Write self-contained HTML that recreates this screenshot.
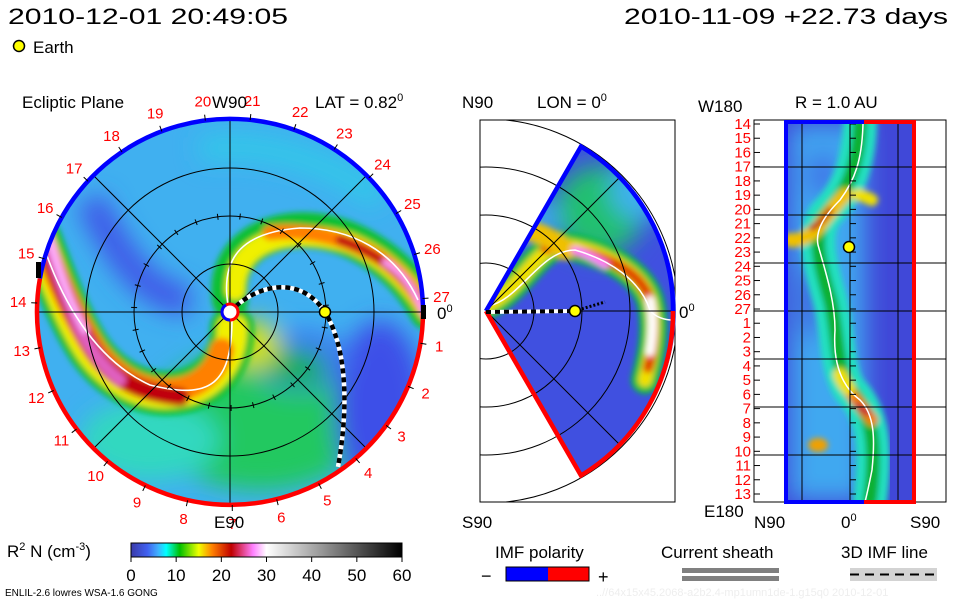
<!DOCTYPE html>
<html><head><meta charset="utf-8"><style>
html,body{margin:0;padding:0;background:#fff}
svg{display:block}
text{font-family:"Liberation Sans",sans-serif}
</style></head><body>
<svg id="s" width="960" height="600" viewBox="0 0 960 600">
<defs>
<filter id="b6" x="-20%" y="-20%" width="140%" height="140%"><feGaussianBlur stdDeviation="6"/></filter>
<filter id="b3" x="-20%" y="-20%" width="140%" height="140%"><feGaussianBlur stdDeviation="3"/></filter>
<filter id="b12" x="-30%" y="-30%" width="160%" height="160%"><feGaussianBlur stdDeviation="12"/></filter>
<clipPath id="cL"><circle cx="230" cy="312" r="193"/></clipPath>
<clipPath id="cM"><path d="M486,311 L581,146.5 A190,190 0 0 1 581,475.5 Z"/></clipPath>
<clipPath id="cMb"><rect x="480" y="120" width="195" height="382"/></clipPath>
<clipPath id="cR"><rect x="786" y="122" width="128" height="380"/></clipPath>
<linearGradient id="cbar" x1="0" x2="1">
<stop offset="0" stop-color="#3a3aa8"/><stop offset="0.06" stop-color="#4060f0"/><stop offset="0.1" stop-color="#40b0ff"/><stop offset="0.13" stop-color="#00ffff"/><stop offset="0.18" stop-color="#00c000"/><stop offset="0.25" stop-color="#f0ff00"/><stop offset="0.3" stop-color="#ff8000"/><stop offset="0.37" stop-color="#c00000"/><stop offset="0.45" stop-color="#ff80ff"/><stop offset="0.5" stop-color="#ffffff"/><stop offset="1" stop-color="#000000"/>
</linearGradient>
</defs>

<text x="8" y="24" font-size="22" textLength="280" lengthAdjust="spacingAndGlyphs">2010-12-01 20:49:05</text>
<text x="624" y="24" font-size="22" textLength="324" lengthAdjust="spacingAndGlyphs">2010-11-09 +22.73 days</text>
<circle cx="19" cy="46" r="5.5" fill="#ffff00" stroke="#000" stroke-width="1.5"/>
<text x="33" y="53" font-size="17">Earth</text>

<g>
<g clip-path="url(#cL)">
<rect x="30" y="110" width="400" height="410" fill="#40b0f0"/>
<g filter="url(#b12)">
<ellipse cx="260" cy="420" rx="110" ry="70" fill="#20c860"/>
<ellipse cx="150" cy="440" rx="70" ry="40" fill="#30d8c0"/>
<ellipse cx="380" cy="410" rx="45" ry="90" fill="#3c50e8"/>
<ellipse cx="300" cy="360" rx="50" ry="30" fill="#3e7af0"/>
<path d="M90,200 C120,260 150,300 190,300" stroke="#4058e8" stroke-width="30" fill="none"/>
<path d="M200,150 C260,140 330,160 380,200" stroke="#30c8e8" stroke-width="25" fill="none"/>
<path d="M240,340 C270,360 300,380 320,360" stroke="#10b030" stroke-width="30" fill="none"/>
<ellipse cx="255" cy="345" rx="25" ry="25" fill="#d0e000"/>
</g>
<g filter="url(#b3)" fill="none" stroke-linecap="round">
<path d="M232,328 C232,400 140,420 90,350 C70,320 55,280 40,240" stroke="#10c030" stroke-width="44"/>
<path d="M232,328 C232,400 140,420 90,350 C70,320 55,280 40,240" stroke="#f0f000" stroke-width="30"/>
<path d="M222,350 C210,398 140,410 95,350 C75,320 58,282 42,240" stroke="#ff8000" stroke-width="24"/>
<path d="M180,397 C130,392 105,372 90,345 C72,315 58,282 44,240" stroke="#c00010" stroke-width="18"/>
<path d="M120,380 C100,365 88,345 78,325 C68,300 58,275 48,240" stroke="#e060c0" stroke-width="12"/>
<path d="M85,330 C72,305 60,275 50,240" stroke="#ffb0ff" stroke-width="7"/>
<path d="M230,300 C222,240 290,215 350,240 C385,255 410,280 428,312" stroke="#10c030" stroke-width="36"/>
<path d="M235,290 C235,240 290,225 350,243 C385,257 410,282 428,312" stroke="#f0f000" stroke-width="20"/>
<path d="M270,233 C310,228 350,240 380,258 C405,275 418,295 428,315" stroke="#ff8000" stroke-width="15"/>
<path d="M340,240 C370,250 400,270 420,300" stroke="#c00010" stroke-width="9"/>
<path d="M385,262 C405,275 416,292 425,315" stroke="#ffa0ff" stroke-width="6"/>
</g>
<path d="M228,305 C220,255 245,232 300,228 C350,228 395,250 418,300" stroke="#fff" stroke-width="1.6" fill="none"/>
<path d="M232,318 C232,385 210,400 150,385 C95,360 60,300 40,235" stroke="#fff" stroke-width="1.6" fill="none"/>
</g>
<g stroke="#000" stroke-width="1" fill="none">
<circle cx="230" cy="312" r="48"/><circle cx="230" cy="312" r="96"/><circle cx="230" cy="312" r="144"/>
<line x1="37" y1="312" x2="423" y2="312"/><line x1="230" y1="119" x2="230" y2="505"/>
<line x1="93.5" y1="175.5" x2="366.5" y2="448.5"/><line x1="93.5" y1="448.5" x2="366.5" y2="175.5"/>
</g>
<path d="M236,306 C260,285 300,275 325,312 C345,345 350,400 338,467" stroke="#fff" stroke-width="4.5" fill="none"/>
<path d="M236,306 C260,285 300,275 325,312 C345,345 350,400 338,467" stroke="#000" stroke-width="4.5" stroke-dasharray="5,4" fill="none"/>
<path d="M39.9,278.5 A193,193 0 0 1 423,312" stroke="#0000ff" stroke-width="4.5" fill="none"/>
<path d="M423,312 A193,193 0 1 1 39.9,278.5" stroke="#ff0000" stroke-width="4.5" fill="none"/>
<rect x="421" y="305" width="5" height="14" fill="#000"/><rect x="36" y="262" width="5" height="16" fill="#000"/>
<circle cx="230" cy="312" r="8" fill="#fff" stroke="#ff0000" stroke-width="3"/>
<path d="M230,320 A8,8 0 0 1 222,312 A8,8 0 0 1 226,305" stroke="#0000ff" stroke-width="3" fill="none"/>
<circle cx="325" cy="312" r="5.5" fill="#ffff00" stroke="#000" stroke-width="1.5"/>
<g id="lticks" stroke="#000" stroke-width="1"></g>
<g id="dayLabels" fill="#ff0000" font-size="15"></g>
<text x="22" y="108" font-size="17">Ecliptic Plane</text>
<text x="212" y="108" font-size="17">W90</text>
<text x="315" y="108" font-size="17">LAT = 0.82<tspan font-size="11" dy="-7">0</tspan></text>
<text x="214" y="528" font-size="17">E90</text>
<text x="437" y="319" font-size="17">0<tspan font-size="11" dy="-7">0</tspan></text>
</g>

<g>
<rect x="480" y="120" width="195" height="382" fill="none" stroke="#000" stroke-width="1"/>
<g clip-path="url(#cM)">
<rect x="480" y="140" width="200" height="340" fill="#4050e0"/>
<g filter="url(#b12)">
<ellipse cx="600" cy="210" rx="45" ry="45" fill="#20c070"/>
<ellipse cx="640" cy="190" rx="30" ry="30" fill="#40b0f0"/>
<ellipse cx="530" cy="220" rx="30" ry="25" fill="#40a0f0"/>
</g>
<g filter="url(#b3)" fill="none" stroke-linecap="round">
<path d="M486,306 C520,290 535,250 560,245 C600,250 640,270 650,300 C658,330 650,360 645,380" stroke="#10c040" stroke-width="28"/>
<path d="M486,306 C520,290 535,250 560,245 C600,250 640,270 650,300 C658,330 650,360 645,380" stroke="#f0e000" stroke-width="14"/>
<path d="M545,248 C600,250 640,270 650,300 C656,330 652,355 648,368" stroke="#e04000" stroke-width="10"/>
<path d="M525,230 C540,232 555,240 565,250" stroke="#f0c000" stroke-width="20"/>
<path d="M575,250 C590,255 600,262 605,265" stroke="#ff80ff" stroke-width="8"/>
<path d="M650,300 C654,320 652,340 650,352" stroke="#ffffff" stroke-width="9"/>
</g>
<path d="M488,306 C520,300 540,250 575,250 C610,260 640,280 650,310 C655,318 667,320 672,320" stroke="#fff" stroke-width="1.5" fill="none"/>
</g>
<g clip-path="url(#cMb)" stroke="#000" stroke-width="1" fill="none">
<circle cx="486" cy="311" r="48"/><circle cx="486" cy="311" r="96"/><circle cx="486" cy="311" r="144"/><circle cx="486" cy="311" r="192"/>
<line x1="486" y1="311" x2="672" y2="311"/>
<line x1="486" y1="311" x2="620" y2="177"/><line x1="486" y1="311" x2="620" y2="445"/>
</g>
<path d="M486,311 L581,146.5 A190,190 0 0 1 673,311" stroke="#0000ff" stroke-width="4.5" fill="none"/>
<path d="M673,311 A190,190 0 0 1 581,475.5 L486,311" stroke="#ff0000" stroke-width="4.5" fill="none"/>
<line x1="486" y1="312" x2="575" y2="311" stroke="#fff" stroke-width="4"/>
<line x1="486" y1="312" x2="575" y2="311" stroke="#000" stroke-width="4" stroke-dasharray="5,4"/>
<line x1="578" y1="310" x2="605" y2="302" stroke="#000" stroke-width="3" stroke-dasharray="2,2"/>
<circle cx="575" cy="311" r="5.5" fill="#ffff00" stroke="#000" stroke-width="1.5"/>
<text x="462" y="108" font-size="17">N90</text>
<text x="537" y="108" font-size="17">LON = 0<tspan font-size="11" dy="-7">0</tspan></text>
<text x="679" y="318" font-size="17">0<tspan font-size="11" dy="-7">0</tspan></text>
<text x="462" y="528" font-size="17">S90</text>
</g>

<g>
<rect x="754" y="120" width="192" height="382" fill="none" stroke="#000" stroke-width="1"/>
<g clip-path="url(#cR)">
<rect x="786" y="122" width="128" height="380" fill="#4048d8"/>
<g filter="url(#b12)">
<rect x="790" y="125" width="75" height="375" fill="#40a8f0"/>
<ellipse cx="823" cy="175" rx="15" ry="25" fill="#4070e8"/>
<ellipse cx="810" cy="300" rx="12" ry="40" fill="#4060e0"/>
</g>
<g filter="url(#b3)" fill="none" stroke-linecap="round">
<path d="M860,124 C858,170 845,195 825,215 C812,235 820,265 830,300 C838,330 836,370 850,390 C870,410 878,440 870,500" stroke="#20e0c0" stroke-width="34"/>
<path d="M860,124 C858,170 845,195 825,215 C812,235 820,265 830,300 C838,330 836,370 850,390 C870,410 878,440 870,500" stroke="#10b030" stroke-width="14"/>
<path d="M845,195 C835,205 828,215 820,225 C812,235 800,242 790,240" stroke="#f0c000" stroke-width="14"/>
<path d="M830,210 C825,218 818,225 812,228" stroke="#c01010" stroke-width="6"/>
<path d="M858,195 C862,195 868,198 872,200" stroke="#f0e000" stroke-width="12"/>
<path d="M845,385 C855,400 865,410 872,420" stroke="#f08000" stroke-width="12"/>
<path d="M858,405 C862,410 866,412 868,413" stroke="#c01040" stroke-width="6"/>
<path d="M840,375 C842,380 845,385 848,388" stroke="#f0e000" stroke-width="14"/>
<ellipse cx="818" cy="445" rx="10" ry="7" fill="#f0a000"/>
</g>
<path d="M863,124 C862,160 855,180 840,200 C825,215 815,230 818,245 C825,270 835,300 835,330 C833,360 840,385 860,400 C875,415 875,440 872,470 C868,490 866,498 865,502" stroke="#fff" stroke-width="1.5" fill="none"/>
</g>
<g stroke="#000" stroke-width="1" id="rgrid">
<line x1="802" y1="120" x2="802" y2="502"/><line x1="850" y1="120" x2="850" y2="502"/><line x1="898" y1="120" x2="898" y2="502"/>
</g>
<rect x="786" y="122" width="128" height="380" fill="none" stroke="#0000ff" stroke-width="4"/>
<path d="M864,122 L914,122 L914,502 L864,502" fill="none" stroke="#ff0000" stroke-width="4"/>
<circle cx="849" cy="247" r="5.5" fill="#ffff00" stroke="#000" stroke-width="1.5"/>
<g id="rLabels" fill="#ff0000" font-size="15"></g>
<text x="698" y="112" font-size="17">W180</text>
<text x="795" y="108" font-size="17">R = 1.0 AU</text>
<text x="704" y="517" font-size="17">E180</text>
<text x="754" y="528" font-size="17">N90</text>
<text x="841" y="528" font-size="17">0<tspan font-size="11" dy="-7">0</tspan></text>
<text x="910" y="528" font-size="17">S90</text>
</g>

<g>
<text x="7" y="557" font-size="17">R<tspan font-size="11" dy="-7">2</tspan><tspan dy="7"> N (cm</tspan><tspan font-size="11" dy="-7">-3</tspan><tspan dy="7">)</tspan></text>
<rect x="131" y="543" width="271" height="14" fill="url(#cbar)" stroke="#000" stroke-width="1"/>
<g id="cbTicks"></g>
</g>

<g>
<text x="495" y="558" font-size="17">IMF polarity</text>
<text x="481" y="582" font-size="18">−</text>
<rect x="506" y="567" width="42" height="14" fill="#0000ff"/><rect x="548" y="567" width="41" height="14" fill="#ff0000"/>
<rect x="506" y="567" width="83" height="14" fill="none" stroke="#000" stroke-width="1"/>
<text x="598" y="583" font-size="18">+</text>
</g>
<g>
<text x="661" y="558" font-size="17">Current sheath</text>
<rect x="682" y="568" width="97" height="5" fill="#808080"/><rect x="682" y="576" width="97" height="5" fill="#808080"/>
</g>
<g>
<text x="841" y="558" font-size="17">3D IMF line</text>
<rect x="850" y="568" width="87" height="13" fill="#d3d3d3"/>
<line x1="850" y1="574.5" x2="937" y2="574.5" stroke="#000" stroke-width="2" stroke-dasharray="9,6"/>
</g>
<text x="5" y="596" font-size="10">ENLIL-2.6 lowres WSA-1.6 GONG</text>
<text x="596" y="596" font-size="11" fill="#eeeeee">..//64x15x45.2068-a2b2.4-mp1umn1de-1.g15q0   2010-12-01</text>
</svg>
<script>
var dayLabelsLeft = [1,2,3,4,5,6,7,8,9,10,11,12,13,14,15,16,17,18,19,20,21,22,23,24,25,26,27];
var dayLabelsRight = [14,15,16,17,18,19,20,21,22,23,24,25,26,27,1,2,3,4,5,6,7,8,9,10,11,12,13];
var colorbarTicks = [0,10,20,30,40,50,60];
var colorbarMax = 60;

var NS = 'http://www.w3.org/2000/svg';
function mk(tag, attrs, parent){var e=document.createElementNS(NS,tag);for(var k in attrs)e.setAttribute(k,attrs[k]);parent.appendChild(e);return e;}
var cx=230, cy=312, step=360/27;
var dl=document.getElementById('dayLabels'), lt=document.getElementById('lticks');
dayLabelsLeft.forEach(function(d,i){
  var ang=(4+(27-d)*step)*Math.PI/180;
  var x=cx+212*Math.cos(ang), y=cy-212*Math.sin(ang);
  var t=mk('text',{x:x.toFixed(1),y:(y+5).toFixed(1),'text-anchor':'middle'},dl);
  
  
  t.textContent=d;
  var x1=cx+193*Math.cos(ang), y1=cy-193*Math.sin(ang), x2=cx+199*Math.cos(ang), y2=cy-199*Math.sin(ang);
  var l=mk('line',{x1:x1,y1:y1,x2:x2,y2:y2},lt);
  
  
  var a1=cx+93*Math.cos(ang), b1=cy-93*Math.sin(ang), a2=cx+99*Math.cos(ang), b2=cy-99*Math.sin(ang);
  var l2=mk('line',{x1:a1,y1:b1,x2:a2,y2:b2},lt);
  
  
});
var rl=document.getElementById('rLabels'), rg=document.getElementById('rgrid');
var y0=124, y1=494, sp=(y1-y0)/(dayLabelsRight.length-1);
dayLabelsRight.forEach(function(d,i){
  var y=y0+i*sp;
  var t=mk('text',{x:'751',y:(y+5).toFixed(1),'text-anchor':'end'},rl);
  
  
  t.textContent=d;
  var l=mk('line',{x1:754,y1:y,x2:760,y2:y},rg);
  
  
  var l2=mk('line',{x1:850,y1:y,x2:856,y2:y},rg);
  
  
});
[167,215,263,311,359,407,455].forEach(function(y){
  var l=mk('line',{x1:754,y1:y,x2:946,y2:y},rg);
  
  
});
var cb=document.getElementById('cbTicks');
function cbx(v){return 131+v/colorbarMax*271;}
colorbarTicks.forEach(function(v){
  var x=cbx(v);
  var l=mk('line',{x1:x,y1:557,x2:x,y2:562,stroke:'#000'},cb);
  
  
  var t=mk('text',{x:x,y:581,'text-anchor':'middle','font-size':'17'},cb);
  
  
  t.textContent=v;
});
</script>
</body></html>
